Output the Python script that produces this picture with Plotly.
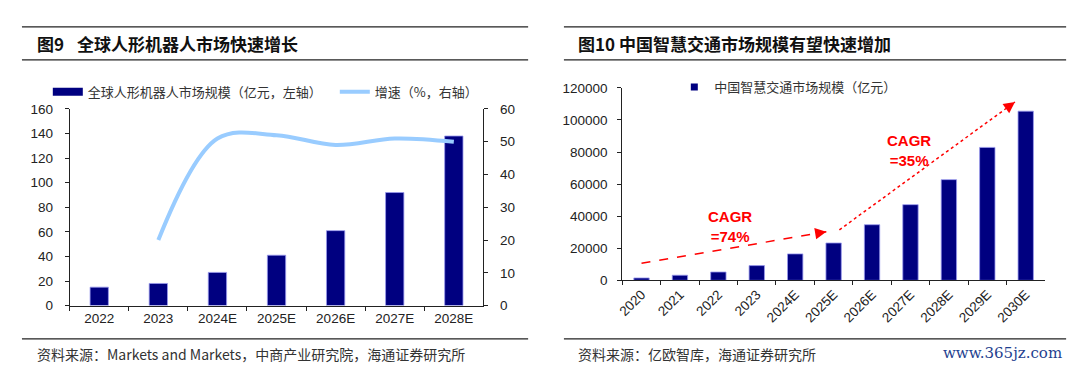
import plotly.graph_objects as go

# ---------------- data ----------------
years_robot = ["2022", "2023", "2024E", "2025E", "2026E", "2027E", "2028E"]
robot_market = [15, 18, 27, 41, 61, 92, 138]          # 亿元, left axis
robot_growth = [None, 20, 51, 52, 49, 51, 50]          # %, right axis

years_traffic = ["2020", "2021", "2022", "2023", "2024E", "2025E",
                 "2026E", "2027E", "2028E", "2029E", "2030E"]
traffic_market = [1500, 3200, 5200, 9200, 16500, 23300,
                  34700, 47200, 62800, 82900, 105500]  # 亿元

robot_bar_name = "全球人形机器人市场规模（亿元，左轴）"
robot_line_name = "增速（%，右轴）"
traffic_bar_name = "中国智慧交通市场规模（亿元）"

# ---------------- style ----------------
W, H = 1080, 366
NAVY = "#000080"
LIGHTBLUE = "#99CCFF"
RED = "#FF0000"
AX = "#222222"
LAT = "Liberation Sans, Arial, sans-serif"
CJK = "Noto Sans CJK SC, sans-serif"


def px_x(p):
    return p / W


def px_y(p):
    return 1 - p / H


fig = go.Figure()

fig.add_trace(go.Bar(
    x=years_robot, y=robot_market, name=robot_bar_name, showlegend=False,
    marker=dict(color=NAVY, line=dict(color="#9999EE", width=0.8)),
    width=0.31, xaxis="x", yaxis="y",
))
# legend proxy (wide rectangle swatch, as in the original legend)
fig.add_trace(go.Scatter(
    x=[None], y=[None], name=robot_bar_name, mode="lines",
    line=dict(color=NAVY, width=8), xaxis="x", yaxis="y", legend="legend",
))
fig.add_trace(go.Scatter(
    x=years_robot, y=robot_growth, name=robot_line_name, mode="lines",
    line=dict(color=LIGHTBLUE, width=4, shape="spline", smoothing=1.0),
    xaxis="x", yaxis="y2", legend="legend",
))
fig.add_trace(go.Bar(
    x=years_traffic, y=traffic_market, name=traffic_bar_name, showlegend=False,
    marker=dict(color=NAVY, line=dict(color="#9999EE", width=0.8)),
    width=0.4, xaxis="x2", yaxis="y3",
))
fig.add_trace(go.Scatter(
    x=[None], y=[None], name=traffic_bar_name, mode="markers",
    marker=dict(color=NAVY, symbol="square", size=7),
    xaxis="x2", yaxis="y3", legend="legend2",
))

axis_common = dict(showline=True, linecolor=AX, linewidth=1, ticks="outside",
                   ticklen=4, tickcolor=AX, showgrid=False, zeroline=False,
                   tickfont=dict(family=LAT, size=13.5, color="#222222"))

fig.update_layout(
    width=W, height=H, autosize=False,
    margin=dict(l=0, r=0, t=0, b=0),
    paper_bgcolor="white", plot_bgcolor="white",
    showlegend=True,
    xaxis=dict(domain=[px_x(56), px_x(472)], anchor="y", type="category",
               tickson="boundaries", **axis_common),
    yaxis=dict(domain=[px_y(303), px_y(98)], anchor="x", range=[0, 160],
               dtick=20, ticklabelstandoff=9, **axis_common),
    yaxis2=dict(domain=[px_y(303), px_y(98)], anchor="x", overlaying="y",
                side="right", range=[0, 60], dtick=10, ticklabelstandoff=9,
                **axis_common),
    xaxis2=dict(domain=[px_x(611.7), px_x(1036.7)], anchor="y3",
                type="category", tickson="boundaries", tickangle=-45,
                **axis_common),
    yaxis3=dict(domain=[px_y(276.7), px_y(76)], anchor="x2",
                range=[0, 120000], dtick=20000, tickformat="d",
                ticklabelstandoff=7, **axis_common),
    legend=dict(orientation="h", x=px_x(34), y=px_y(80), xanchor="left",
                yanchor="middle", bgcolor="rgba(0,0,0,0)",
                font=dict(family=CJK, size=13, color="#333333"),
                itemwidth=30, tracegroupgap=0,
                entrywidth=242, entrywidthmode="pixels"),
    legend2=dict(orientation="h", x=px_x(664), y=px_y(75), xanchor="left",
                 yanchor="middle", bgcolor="rgba(0,0,0,0)",
                 font=dict(family=CJK, size=13, color="#333333"),
                 itemwidth=30),
)

# frame lines (title / source rules)
shapes = []
for x0, x1 in [(8, 517), (553, 1058)]:
    for yy in [12.3, 46.7, 337.7]:
        shapes.append(dict(type="line", xref="paper", yref="paper",
                           x0=px_x(x0), x1=px_x(x1), y0=px_y(yy), y1=px_y(yy),
                           line=dict(color="#222222", width=1.3)))

# CAGR dashed arrows (right chart, data coordinates)
arrow1 = dict(x0=0.0, y0=10600, x1=4.81, y1=30300)
arrow2 = dict(x0=5.15, y0=31500, x1=9.72, y1=111200)
shapes.append(dict(type="line", xref="x2", yref="y3", **arrow1,
                   line=dict(color=RED, width=1.5, dash="dash")))
shapes.append(dict(type="line", xref="x2", yref="y3", **arrow2,
                   line=dict(color=RED, width=1.5, dash="dot")))
fig.update_layout(shapes=shapes)

annotations = [
    dict(text="<b>图9</b>", xref="paper", yref="paper", x=px_x(21), y=px_y(30),
         xanchor="left", yanchor="middle", showarrow=False,
         font=dict(family=CJK, size=17, color="#111111")),
    dict(text="<b>全球人形机器人市场快速增长</b>", xref="paper", yref="paper",
         x=px_x(61), y=px_y(30), xanchor="left", yanchor="middle",
         showarrow=False, font=dict(family=CJK, size=17, color="#111111")),
    dict(text="<b>图10 中国智慧交通市场规模有望快速增加</b>", xref="paper",
         yref="paper", x=px_x(565), y=px_y(30), xanchor="left",
         yanchor="middle", showarrow=False,
         font=dict(family=CJK, size=17, color="#111111")),
    dict(text="资料来源：Markets and Markets，中商产业研究院，海通证券研究所",
         xref="paper", yref="paper", x=px_x(21), y=px_y(353), xanchor="left",
         yanchor="middle", showarrow=False,
         font=dict(family=CJK, size=14, color="#333333")),
    dict(text="资料来源：亿欧智库，海通证券研究所", xref="paper", yref="paper",
         x=px_x(565), y=px_y(353), xanchor="left", yanchor="middle",
         showarrow=False, font=dict(family=CJK, size=14, color="#333333")),
    dict(text="www.365jz.com", xref="paper", yref="paper", x=px_x(1056),
         y=px_y(352), xanchor="right", yanchor="middle", showarrow=False,
         font=dict(family="DejaVu Serif, serif", size=15, color="#1F3F8F")),
    dict(text="<b>CAGR<br>=74%</b>", xref="x2", yref="y3", x=2.3, y=33500,
         showarrow=False, align="center",
         font=dict(family=LAT, size=15, color=RED)),
    dict(text="<b>CAGR<br>=35%</b>", xref="x2", yref="y3", x=6.95, y=81000,
         showarrow=False, align="center",
         font=dict(family=LAT, size=15, color=RED)),
]
# arrowheads
for a in (arrow1, arrow2):
    dx = a["x1"] - a["x0"]
    dy = a["y1"] - a["y0"]
    annotations.append(dict(
        text="", x=a["x1"], y=a["y1"], xref="x2", yref="y3",
        ax=a["x1"] - dx * 0.05, ay=a["y1"] - dy * 0.05,
        axref="x2", ayref="y3", showarrow=True, arrowhead=2,
        arrowsize=1.5, arrowwidth=1.5, arrowcolor=RED, standoff=0))
fig.update_layout(annotations=annotations)

fig.write_html("out.html")
